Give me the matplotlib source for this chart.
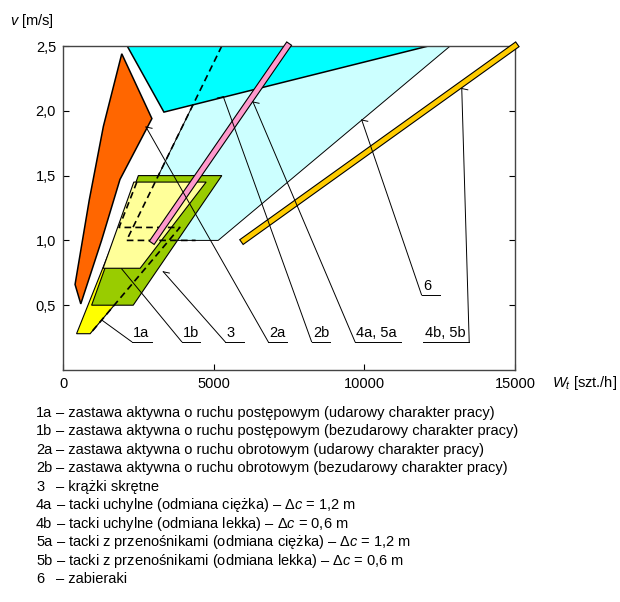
import matplotlib
matplotlib.use("Agg")
import matplotlib.pyplot as plt

plt.rcParams['font.family'] = ['Liberation Sans', 'DejaVu Sans']
plt.rcParams['mathtext.fontset'] = 'custom'
plt.rcParams['mathtext.rm'] = 'Liberation Sans'
plt.rcParams['mathtext.it'] = 'Liberation Sans:italic'

# areas of application, W_t [szt./h] vs v [m/s]
zone_2a_x = [1950, 2950, 1890, 1280, 590, 400, 870, 1340]       # orange
zone_2a_y = [2.44, 1.94, 1.47, 1.00, 0.51, 0.66, 1.31, 1.88]
zone_6_x = [5270, 12850, 5150, 2110]                              # light cyan
zone_6_y = [2.5, 2.5, 1.0, 1.0]
zone_top_x = [2130, 3350, 12130]                                  # cyan
zone_top_y = [2.5, 1.99, 2.5]
zone_1a_x = [450, 900, 3880, 1860]                                # yellow
zone_1a_y = [0.28, 0.28, 1.10, 1.10]
zone_3_x = [950, 2330, 5270, 2500]                                # green
zone_3_y = [0.5, 0.5, 1.5, 1.5]
zone_1b_x = [1330, 2560, 4750, 2350]                              # pale yellow
zone_1b_y = [0.785, 0.785, 1.45, 1.45]

# dashed outlines
dash_2b_x = [5270, 2110, 4400]
dash_2b_y = [2.5, 1.0, 1.0]
dash_1a_x = [2450, 1860, 3880, 900]
dash_1a_y = [1.45, 1.10, 1.10, 0.28]

# bars
bar_4a_x = [3000, 7450]
bar_4a_y = [1.0, 2.5]
bar_4b_x = [6000, 15000]
bar_4b_y = [1.0, 2.5]

# leader labels: text, underline x0, x1, underline y, target x, y
labels = ['1a', '1b', '3', '2a', '2b', '4a, 5a', '4b, 5b', '6']
line_x0 = [2280, 3940, 5380, 6810, 8250, 9690, 11960, 11900]
line_x1 = [2940, 4550, 6010, 7420, 8860, 11210, 13480, 12510]
line_y = [0.218, 0.218, 0.218, 0.218, 0.218, 0.218, 0.218, 0.579]
target_x = [1284, 1948, 3329, 2755, 5320, 6306, 13233, 9914]
target_y = [0.386, 0.78, 0.758, 1.875, 2.109, 2.068, 2.172, 1.929]
from_right = [False, False, False, False, False, False, True, False]
barb_dir = [0, 0, 1, 1, -1, 1, 1, 1]

xticks = [0, 5000, 10000, 15000]
yticks = [0.5, 1.0, 1.5, 2.0, 2.5]
ytick_labels = ['0,5', '1,0', '1,5', '2,0', '2,5']

legend_codes = ['1a', '1b', '2a', '2b', '3', '4a', '4b', '5a', '5b', '6']
legend_texts = [
    '– zastawa aktywna o ruchu postępowym (udarowy charakter pracy)',
    '– zastawa aktywna o ruchu postępowym (bezudarowy charakter pracy)',
    '– zastawa aktywna o ruchu obrotowym (udarowy charakter pracy)',
    '– zastawa aktywna o ruchu obrotowym (bezudarowy charakter pracy)',
    '– krążki skrętne',
    '– tacki uchylne (odmiana ciężka) – $\\mathit{\\Delta c}$ = 1,2 m',
    '– tacki uchylne (odmiana lekka) – $\\mathit{\\Delta c}$ = 0,6 m',
    '– tacki z przenośnikami (odmiana ciężka) – $\\mathit{\\Delta c}$ = 1,2 m',
    '– tacki z przenośnikami (odmiana lekka) – $\\mathit{\\Delta c}$ = 0,6 m',
    '– zabieraki',
]

fs = 10.5
fig = plt.figure(figsize=(6.2, 6.02), dpi=100)
ax = fig.add_axes([63 / 620, 1 - 370 / 602, 452 / 620, 324 / 602])
ax.set_xlim(0, 15000)
ax.set_ylim(0, 2.5)

ax.fill(zone_6_x, zone_6_y, facecolor='#CCFFFF', edgecolor='black', lw=0.7, zorder=1)
ax.fill(zone_top_x, zone_top_y, facecolor='#00FFFF', edgecolor='black', lw=1.1, zorder=1.1)
ax.fill(zone_2a_x, zone_2a_y, facecolor='#FF6600', edgecolor='black', lw=1.1, zorder=1.2)
ax.fill(zone_1a_x, zone_1a_y, facecolor='#FFFF00', edgecolor='black', lw=0.8, zorder=1.3)
ax.fill(zone_3_x, zone_3_y, facecolor='#99CC00', edgecolor='black', lw=0.8, zorder=1.4)
ax.fill(zone_1b_x, zone_1b_y, facecolor='#FFFF99', edgecolor='black', lw=0.8, zorder=1.5)

ax.plot(dash_2b_x, dash_2b_y, color='black', lw=1.2, ls=(0, (4, 2.5)), zorder=1.6)
ax.plot(dash_1a_x, dash_1a_y, color='black', lw=1.2, ls=(0, (4, 2.5)), zorder=1.6)

for bx, by, col in [(bar_4a_x, bar_4a_y, '#FF99CC'), (bar_4b_x, bar_4b_y, '#FFCC00')]:
    ax.plot(bx, by, color='black', lw=5.0, solid_capstyle='projecting', zorder=3, clip_on=False)
    ax.plot(bx, by, color=col, lw=3.4, solid_capstyle='projecting', zorder=3.1, clip_on=False)

for i, lab in enumerate(labels):
    x0, x1, y = line_x0[i], line_x1[i], line_y[i]
    ax.plot([x0, x1], [y, y], color='black', lw=0.7, zorder=4)
    sx = x1 if from_right[i] else x0
    tx, ty = target_x[i], target_y[i]
    ax.plot([sx, tx], [y, ty], color='black', lw=0.7, zorder=4)
    if barb_dir[i]:
        # short half-arrow stroke at the tip
        ax.plot([tx, tx + barb_dir[i] * 200], [ty, ty - 0.01], color='black', lw=0.7, zorder=4)
    ax.text(x0 + 40, y + 0.015, lab, fontsize=fs, ha='left', va='bottom', zorder=4)

ax.set_xticks(xticks)
ax.set_xticklabels([str(t) for t in xticks], fontsize=fs)
ax.set_yticks(yticks)
ax.set_yticklabels(ytick_labels, fontsize=fs)
ax.tick_params(direction='in', length=4, width=0.8, right=True, pad=5)
for s in ax.spines.values():
    s.set_color('#444444')
    s.set_linewidth(1.0)
    s.set_zorder(2.5)

ax.annotate('$W_t$ [szt./h]', xy=(1, 0), xycoords='axes fraction', xytext=(27, -9.5),
            textcoords='offset points', ha='left', va='center', fontsize=fs)
ax.annotate('$v$ [m/s]', xy=(0, 1), xycoords='axes fraction', xytext=(-38, 18),
            textcoords='offset points', ha='left', va='center', fontsize=fs)

for i, (code, txt) in enumerate(zip(legend_codes, legend_texts)):
    yy = 1 - (412.7 + 18.5 * i) / 602
    fig.text(36 / 620, yy, code, fontsize=fs, ha='left', va='center')
    fig.text(56.5 / 620, yy, txt, fontsize=fs, ha='left', va='center')

fig.savefig('out.png', dpi=100)
